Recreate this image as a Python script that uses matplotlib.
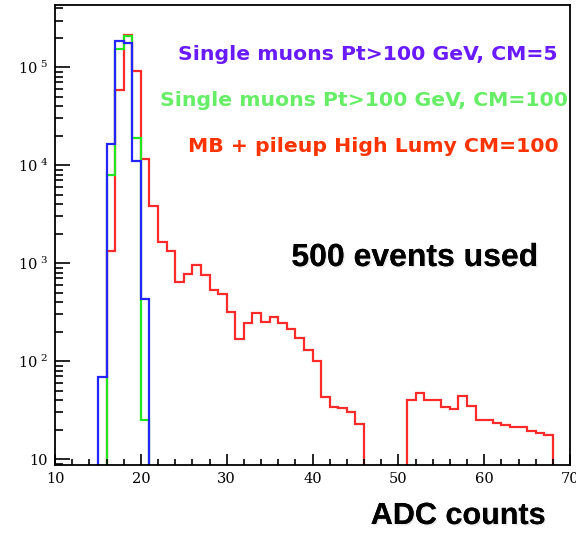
import numpy as np
import matplotlib
matplotlib.use("Agg")
import matplotlib.pyplot as plt
from matplotlib.ticker import FixedLocator, MultipleLocator, LogLocator, NullFormatter
import matplotlib.patheffects as pe

# ---- data (ADC count histograms, unit-width bins) ----
blue_edges = np.arange(15, 22)
blue_counts = [68, 16500, 187000, 178000, 11000, 427]

green_edges = np.arange(16, 22)
green_counts = [8000, 153000, 209000, 19000, 25]

red_edges = np.arange(16, 69)
red_counts = [1335, 59000, 215000, 91000, 11500, 3800, 1640, 1335, 646, 776,
              955, 754, 537, 482, 317, 170, 246, 311, 252, 283,
              246, 215, 174, 129, 100, 42.6, 34, 33, 30, 23,
              0, 0, 0, 0, 0,
              40, 46.8, 40, 40, 34, 32.6, 44, 35, 25, 25,
              23.5, 22, 21.4, 21.4, 19.5, 18.3, 17.4]

x_ticks = [10, 20, 30, 40, 50, 60, 70]
y_ticks = [10, 100, 1000, 10000, 100000]
y_ticklabels = ["10", r"$\mathregular{10^{\ 2}}$", r"$\mathregular{10^{\ 3}}$",
                r"$\mathregular{10^{\ 4}}$", r"$\mathregular{10^{\ 5}}$"]

labels = ["Single muons Pt>100 GeV, CM=5",
          "Single muons Pt>100 GeV, CM=100",
          "MB + pileup High Lumy CM=100"]

plt.rcParams["font.family"] = ["DejaVu Serif"]
plt.rcParams["mathtext.default"] = "regular"

W, H = 576, 534
fig = plt.figure(figsize=(W / 100, H / 100), dpi=100)
ax = fig.add_axes([55 / W, 1 - 465 / H, (570 - 55) / W, (465 - 5) / H])

floor = 1e-3
def draw(edges, counts, color):
    v = np.array(counts, dtype=float)
    v = np.where(v > 0, v, floor)
    ax.stairs(v, edges, baseline=floor, color=color, lw=1.6)

draw(red_edges, red_counts, "#ff2a2a")
draw(green_edges, green_counts, "#22e622")
draw(blue_edges, blue_counts, "#2424ff")

ax.set_yscale("log")
ax.set_xlim(10, 70)
ax.set_ylim(8.69, 4.32e5)

ax.xaxis.set_major_locator(FixedLocator(x_ticks))
ax.xaxis.set_minor_locator(MultipleLocator(2))
ax.set_xticklabels([str(t) for t in x_ticks])
ax.yaxis.set_major_locator(FixedLocator(y_ticks))
ax.set_yticklabels(y_ticklabels)
ax.yaxis.set_minor_locator(LogLocator(base=10, subs=np.arange(2, 10)))
ax.yaxis.set_minor_formatter(NullFormatter())

ax.tick_params(axis="x", which="major", direction="in", length=8, width=1.2,
               labelsize=10.5, pad=5, top=False)
ax.tick_params(axis="x", which="minor", direction="in", length=4.3, width=1.2, top=False)
ax.tick_params(axis="y", which="major", direction="in", length=10.8, width=1.2,
               labelsize=10.5, pad=5, right=False)
ax.tick_params(axis="y", which="minor", direction="in", length=5.8, width=1.2, right=False)
for s in ax.spines.values():
    s.set_linewidth(1.3)

def ftext(x, y, s, **kw):
    fig.text(x / W, 1 - y / H, s, **kw)

ftext(557, 55, labels[0], ha="right", va="center", color="#6a1aff",
      fontsize=14.7, fontweight="bold", family="DejaVu Sans")
ftext(568, 100, labels[1], ha="right", va="center", color="#66ee66",
      fontsize=14.7, fontweight="bold", family="DejaVu Sans")
ftext(559, 146.5, labels[2], ha="right", va="center", color="#ff3300",
      fontsize=14.7, fontweight="bold", family="DejaVu Sans")

shadow = [pe.withSimplePatchShadow(offset=(1, -1), shadow_rgbFace="gray", alpha=0.18), pe.Normal()]
ftext(415, 258, "500 events used", ha="center", va="center", color="black",
      fontsize=23, fontweight="bold", family="Liberation Sans", path_effects=shadow)
ftext(458, 516, "ADC counts", ha="center", va="center", color="black",
      fontsize=22, fontweight="bold", family="Liberation Sans", path_effects=shadow)

fig.savefig("out.png", dpi=100, facecolor="white")
